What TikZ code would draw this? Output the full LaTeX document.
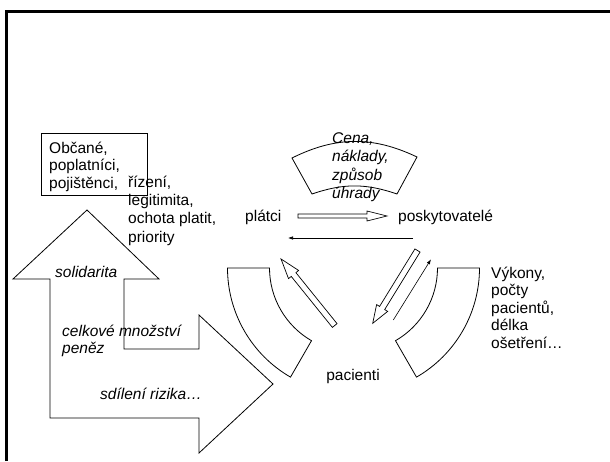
\documentclass[tikz,border=0pt]{standalone}
\usepackage{fontspec}
\setmainfont{Liberation Sans}
\usetikzlibrary{arrows.meta}
\begin{document}
\begin{tikzpicture}[x=1pt,y=-1pt,
  outl/.style={draw=black,line width=0.8pt,line join=miter},
  txt/.style={inner sep=0pt,anchor=base west,align=left,font=\fontsize{15.5}{17.5}\selectfont},
  itxt/.style={txt,font=\fontsize{15.5}{17.5}\selectfont\itshape},
  thinarr/.style={draw=black,line width=0.6pt,-{Latex[length=5pt,width=3.5pt]}}]
\useasboundingbox (0,0) rectangle (610,461);
% frame
\draw[line width=3pt] (6,461) -- (6,11) -- (610,11);
% box
\node[draw,line width=0.8pt,minimum width=106pt,minimum height=62pt,anchor=north west,inner sep=0pt] (box) at (41,133) {};
\node[txt] (obcane) at (49,188) {Občané,\\poplatníci,\\pojištěnci,};
\node[txt,font=\fontsize{15.5}{18.3}\selectfont] (rizeni) at (128,242) {řízení,\\legitimita,\\ochota platit,\\priority};
% big compound arrow
\draw[outl] (87,210) -- (159,279) -- (124,279) -- (124,349) -- (199,349) -- (199,315)
  -- (273,384) -- (199,453) -- (199,418) -- (50,418) -- (50,279) -- (13,279) -- cycle;
\node[itxt] (solid) at (55,277) {solidarita};
\node[itxt,font=\fontsize{15.5}{17}\selectfont\itshape] (celk) at (62,353) {celkové množství\\peněz};
\node[itxt] (sdil) at (100,399) {sdílení rizika…};
% top banner
\draw[outl] (292,158) to[bend left=26] (417,157) -- (397,194) to[bend right=19] (312,194) -- cycle;
\node[itxt,font=\fontsize{15.5}{18.5}\selectfont\itshape] (cena) at (332,198.5) {Cena,\\náklady,\\způsob\\úhrady};
% actors
\node[txt] (platci) at (245,221) {plátci};
\node[txt] (posk) at (398,221) {poskytovatelé};
\node[txt,anchor=base] (pac) at (353,380) {pacienti};
\node[txt,font=\fontsize{15.5}{17.5}\selectfont] (vyk) at (491,348) {Výkony,\\počty\\pacientů,\\délka\\ošetření…};
% hollow horizontal arrow
\draw[outl,line width=0.7pt] (298,214) -- (367,214) -- (367,211) -- (387,216) -- (367,221) -- (367,218) -- (298,218) -- cycle;
% thin back arrow
\coordinate (hb1) at (413,238);
\coordinate (hb2) at (288,238);
\draw[thinarr] (hb1) -- (hb2);
% bands
\draw[outl] (227.5,268) arc[start angle=180,end angle=240,radius=126pt] -- (311.5,340.7) arc[start angle=240,end angle=180,radius=84pt] -- cycle;
\draw[outl] (479.5,268) arc[start angle=0,end angle=-60,radius=126pt] -- (395.5,340.7) arc[start angle=-60,end angle=0,radius=84pt] -- cycle;
% hollow diagonal arrows
\begin{scope}[shift={(334.7,325.5)},rotate=128.9]
\draw[outl,line width=0.7pt] (0,-3) -- (65.5,-3) -- (65.5,-6.5) -- (85.5,0) -- (65.5,6.5) -- (65.5,3) -- (0,3) -- cycle;
\end{scope}
\begin{scope}[shift={(417.5,250.5)},rotate=238.4]
\draw[outl,line width=0.7pt] (0,-3) -- (67.5,-3) -- (67.5,-6.5) -- (85.5,0) -- (67.5,6.5) -- (67.5,3) -- (0,3) -- cycle;
\end{scope}
% thin diagonal arrow
\coordinate (d1) at (393.3,320);
\coordinate (d2) at (431,259.3);
\draw[thinarr] (d1) -- (d2);
\end{tikzpicture}
\end{document}
